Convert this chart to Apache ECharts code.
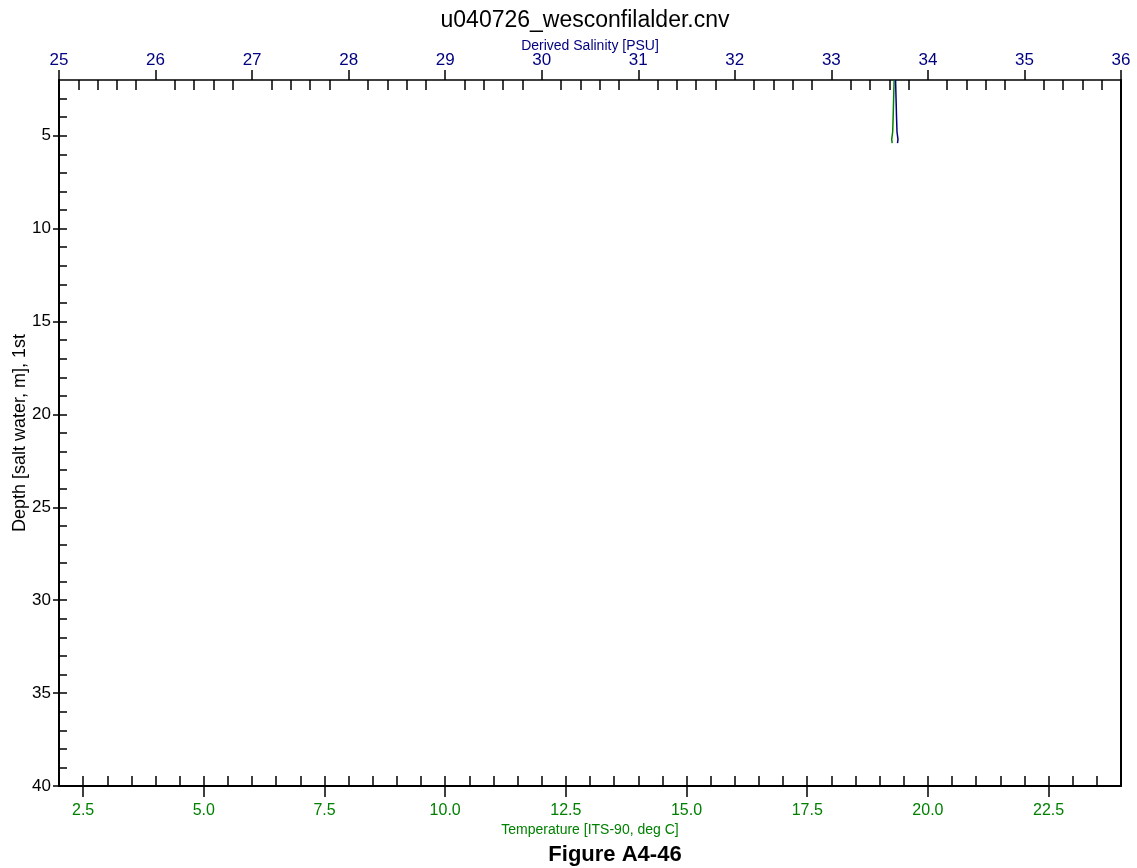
<!DOCTYPE html>
<html><head><meta charset="utf-8">
<script src="https://cdn.jsdelivr.net/npm/echarts@6/dist/echarts.min.js"></script>
<style>html,body{margin:0;padding:0;background:#fff}#c{width:1137px;height:868px}</style>
</head><body><div id="c"></div>
<script>
const titleText = 'u040726_wesconfilalder.cnv';
const figureCaption = 'Figure A4-46';
const salinityLabel = 'Derived Salinity [PSU]';
const temperatureLabel = 'Temperature [ITS-90, deg C]';
const depthLabel = 'Depth [salt water, m], 1st';

const depthTicks = [5, 10, 15, 20, 25, 30, 35, 40];
const temperatureTicks = [2.5, 5, 7.5, 10, 12.5, 15, 17.5, 20, 22.5];
const salinityTicks = [25, 26, 27, 28, 29, 30, 31, 32, 33, 34, 35, 36];

const depth       = [2.0, 3.0, 4.0, 4.8, 5.2, 5.4];
const temperature = [19.30, 19.29, 19.28, 19.27, 19.25, 19.26];
const salinity    = [33.665, 33.670, 33.675, 33.680, 33.690, 33.685];

const NAVY = '#000080', GREEN = '#008000';
const FONT = 'Liberation Sans, Arial, sans-serif';

// minor tick positions (styling only)
const depthMinor = []; for (let v = 3; v <= 39; v++) depthMinor.push(v);
const tempMinor = []; for (let i = 5; i <= 47; i++) tempMinor.push(i / 2);
const salMinor = []; for (let i = 125; i < 180; i++) if (i % 5 !== 0) salMinor.push(i / 5);

const chart = echarts.init(document.getElementById('c'), null, {renderer: 'canvas'});
const noSplit = {show: false};
chart.setOption({
  animation: false,
  backgroundColor: '#fff',
  title: [
    {text: titleText, left: 580, top: 4, textAlign: 'center',
     textStyle: {fontFamily: FONT, fontSize: 23, fontWeight: 'normal', color: '#000'}},
    {text: figureCaption, left: 610, top: 839, textAlign: 'center',
     textStyle: {fontFamily: FONT, fontSize: 22, fontWeight: 'bold', color: '#000'}}
  ],
  grid: {left: 59, top: 80, right: 16, bottom: 82, containLabel: false, outerBoundsMode: 'none'},
  xAxis: [
    { // temperature, bottom: labels + outward major ticks
      type: 'value', position: 'bottom', min: 2, max: 24,
      name: temperatureLabel, nameLocation: 'middle', nameGap: 37, nameMoveOverlap: false,
      nameTextStyle: {fontFamily: FONT, fontSize: 14, color: GREEN},
      axisLine: {show: true, onZero: false, lineStyle: {color: '#000', width: 2}},
      axisTick: {show: true, inside: false, length: 11, customValues: temperatureTicks, lineStyle: {color: '#000', width: 1.5}},
      axisLabel: {show: true, customValues: temperatureTicks, margin: 17, color: GREEN, fontFamily: FONT, fontSize: 16,
        formatter: v => v.toFixed(1)},
      splitLine: noSplit
    },
    { // temperature inside ticks
      type: 'value', position: 'bottom', min: 2, max: 24,
      axisLine: {show: false, onZero: false},
      axisTick: {show: true, inside: true, length: 10, customValues: tempMinor, lineStyle: {color: '#000', width: 1.5}},
      axisLabel: {show: false}, splitLine: noSplit
    },
    { // salinity, top
      type: 'value', position: 'top', min: 25, max: 36,
      name: salinityLabel, nameLocation: 'middle', nameGap: 27, nameMoveOverlap: false,
      nameTextStyle: {fontFamily: FONT, fontSize: 14, color: NAVY},
      axisLine: {show: true, onZero: false, lineStyle: {color: '#000', width: 1.5}},
      axisTick: {show: true, inside: false, length: 10, customValues: salinityTicks, lineStyle: {color: '#000', width: 1.5}},
      axisLabel: {show: true, customValues: salinityTicks, margin: 11, color: NAVY, fontFamily: FONT, fontSize: 17},
      splitLine: noSplit
    },
    { // salinity inside minor ticks
      type: 'value', position: 'top', min: 25, max: 36,
      axisLine: {show: false, onZero: false},
      axisTick: {show: true, inside: true, length: 10, customValues: salMinor, lineStyle: {color: '#000', width: 1.5}},
      axisLabel: {show: false}, splitLine: noSplit
    }
  ],
  yAxis: [
    { // depth, left
      type: 'value', position: 'left', inverse: true, min: 2, max: 40,
      name: depthLabel, nameLocation: 'middle', nameGap: 30, nameRotate: 90, nameMoveOverlap: false,
      nameTextStyle: {fontFamily: FONT, fontSize: 18, color: '#000'},
      axisLine: {show: true, onZero: false, lineStyle: {color: '#000', width: 2}},
      axisTick: {show: true, inside: false, length: 6, customValues: depthTicks, lineStyle: {color: '#000', width: 1.5}},
      axisLabel: {show: true, customValues: depthTicks, margin: 8, color: '#000', fontFamily: FONT, fontSize: 17},
      splitLine: noSplit
    },
    { // depth inside minor ticks
      type: 'value', position: 'left', inverse: true, min: 2, max: 40,
      axisLine: {show: false, onZero: false},
      axisTick: {show: true, inside: true, length: 8, customValues: depthMinor, lineStyle: {color: '#000', width: 1.5}},
      axisLabel: {show: false}, splitLine: noSplit
    },
    { // right border
      type: 'value', position: 'right', inverse: true, min: 2, max: 40,
      axisLine: {show: true, onZero: false, lineStyle: {color: '#000', width: 2}},
      axisTick: {show: false}, axisLabel: {show: false}, splitLine: noSplit
    }
  ],
  series: [
    {
      name: 'Temperature', type: 'line', xAxisIndex: 0, yAxisIndex: 0,
      data: depth.map((d, i) => [temperature[i], d]),
      showSymbol: false, symbol: 'none', smooth: false,
      lineStyle: {color: GREEN, width: 1.5}, clip: true
    },
    {
      name: 'Salinity', type: 'line', xAxisIndex: 2, yAxisIndex: 0,
      data: depth.map((d, i) => [salinity[i], d]),
      showSymbol: false, symbol: 'none', smooth: false,
      lineStyle: {color: NAVY, width: 1.5}, clip: true
    }
  ]
});
</script>
</body></html>
